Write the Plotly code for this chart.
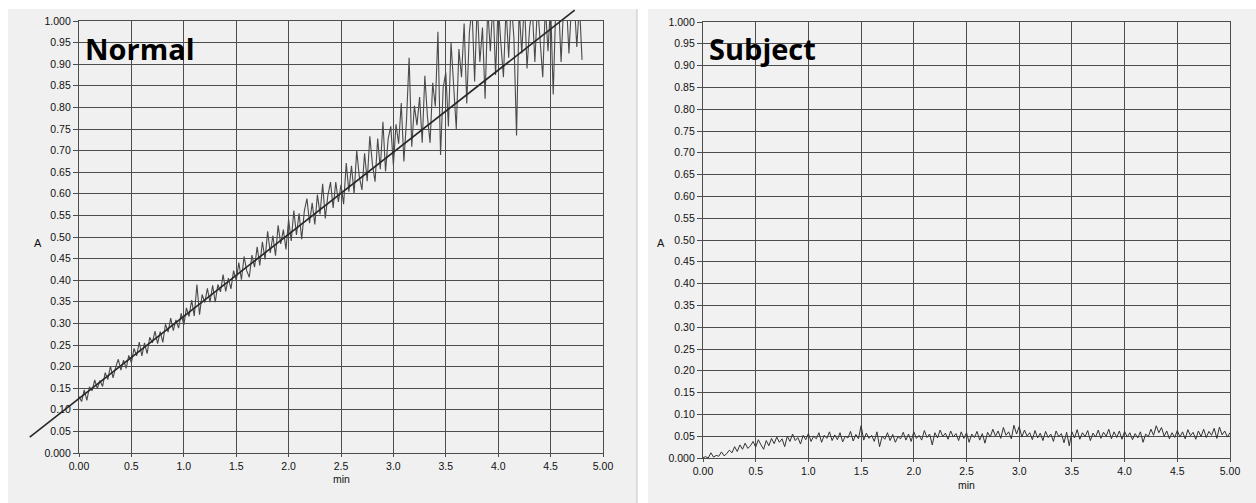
import plotly.graph_objects as go

# ---------------- data ----------------
sample_step_min = 0.025  # spacing of the recorded readings (min)

normal_A = [
    0.131, 0.119, 0.146, 0.122, 0.153, 0.144, 0.169, 0.149, 0.168, 0.154,
    0.186, 0.170, 0.201, 0.174, 0.199, 0.217, 0.192, 0.215, 0.196, 0.226,
    0.209, 0.242, 0.225, 0.257, 0.225, 0.255, 0.230, 0.268, 0.255, 0.282,
    0.253, 0.281, 0.256, 0.298, 0.280, 0.312, 0.283, 0.308, 0.289, 0.323,
    0.296, 0.336, 0.316, 0.354, 0.317, 0.390, 0.320, 0.367, 0.348, 0.381,
    0.349, 0.388, 0.349, 0.390, 0.373, 0.413, 0.374, 0.405, 0.380, 0.422,
    0.399, 0.441, 0.401, 0.455, 0.422, 0.407, 0.458, 0.430, 0.477, 0.434,
    0.489, 0.448, 0.513, 0.463, 0.503, 0.457, 0.527, 0.484, 0.517, 0.471,
    0.541, 0.491, 0.561, 0.505, 0.555, 0.495, 0.560, 0.589, 0.532, 0.579,
    0.529, 0.598, 0.553, 0.623, 0.543, 0.597, 0.627, 0.567, 0.627, 0.581,
    0.621, 0.576, 0.671, 0.605, 0.665, 0.600, 0.700, 0.639, 0.609, 0.694,
    0.629, 0.733, 0.668, 0.628, 0.728, 0.657, 0.767, 0.652, 0.727, 0.756,
    0.666, 0.761, 0.716, 0.810, 0.675, 0.770, 0.915, 0.709, 0.804, 0.759,
    0.824, 0.718, 0.873, 0.778, 0.718, 0.857, 0.802, 0.975, 0.690, 0.846,
    0.881, 0.756, 0.951, 0.835, 0.750, 0.935, 0.870, 0.994, 0.809, 0.974,
    1.030, 0.860, 1.040, 0.905, 0.985, 0.820, 1.030, 0.930, 1.050, 0.875,
    1.040, 0.950, 0.870, 1.030, 0.915, 1.045, 0.960, 0.735, 1.030, 0.925,
    1.050, 0.890, 0.985, 1.030, 0.905, 1.040, 0.945, 0.870, 1.035, 0.930,
    1.040, 0.830, 1.040, 1.050, 0.905, 1.040, 1.050, 0.925, 1.040, 1.050,
    0.940, 1.040, 0.910,
]

subject_A = [
    0.001, 0.003, 0.000, 0.012, 0.002, 0.006, 0.004, 0.014, 0.005, 0.010,
    0.018, 0.012, 0.026, 0.015, 0.030, 0.020, 0.034, 0.022, 0.028, 0.038,
    0.025, 0.042, 0.030, 0.020, 0.040, 0.028, 0.045, 0.033, 0.048, 0.036,
    0.044, 0.026, 0.050, 0.038, 0.055, 0.040, 0.047, 0.032, 0.052, 0.042,
    0.056, 0.038, 0.050, 0.044, 0.058, 0.036, 0.052, 0.045, 0.060, 0.040,
    0.053, 0.042, 0.058, 0.037, 0.050, 0.046, 0.061, 0.039, 0.054, 0.044,
    0.074, 0.041, 0.057, 0.045, 0.052, 0.038, 0.060, 0.026, 0.050, 0.043,
    0.058, 0.040, 0.054, 0.036, 0.049, 0.044, 0.059, 0.041, 0.055, 0.038,
    0.060, 0.045, 0.052, 0.041, 0.063, 0.047, 0.055, 0.030, 0.058, 0.046,
    0.064, 0.049, 0.057, 0.043, 0.062, 0.048, 0.056, 0.040, 0.060, 0.045,
    0.058, 0.036, 0.055, 0.047, 0.061, 0.041, 0.056, 0.034, 0.059, 0.048,
    0.066, 0.050, 0.062, 0.045, 0.070, 0.052, 0.060, 0.044, 0.075, 0.055,
    0.072, 0.048, 0.064, 0.050, 0.058, 0.042, 0.063, 0.046, 0.057, 0.040,
    0.061, 0.047, 0.055, 0.038, 0.062, 0.049, 0.056, 0.035, 0.059, 0.028,
    0.060, 0.046, 0.065, 0.043, 0.058, 0.049, 0.063, 0.040, 0.057, 0.048,
    0.064, 0.045, 0.059, 0.050, 0.066, 0.044, 0.060, 0.047, 0.062, 0.043,
    0.061, 0.048, 0.058, 0.042, 0.056, 0.046, 0.060, 0.036, 0.055, 0.049,
    0.066, 0.052, 0.074, 0.058, 0.070, 0.050, 0.062, 0.044, 0.058, 0.047,
    0.063, 0.048, 0.060, 0.044, 0.065, 0.051, 0.059, 0.043, 0.062, 0.049,
    0.066, 0.047, 0.061, 0.052, 0.068, 0.045, 0.071, 0.053, 0.062, 0.048,
    0.058,
]

# fitted straight line on the Normal panel (end points)
fit_x = [-0.47, 4.73]
fit_y = [0.037, 1.025]

x_tickvals = [0.0, 0.5, 1.0, 1.5, 2.0, 2.5, 3.0, 3.5, 4.0, 4.5, 5.0]
x_ticktext = ["0.00", "0.5", "1.0", "1.5", "2.0", "2.5", "3.0", "3.5", "4.0", "4.5", "5.00"]
y_tickvals = [0.0, 0.05, 0.10, 0.15, 0.20, 0.25, 0.30, 0.35, 0.40, 0.45, 0.50,
              0.55, 0.60, 0.65, 0.70, 0.75, 0.80, 0.85, 0.90, 0.95, 1.0]
y_ticktext = ["0.000", "0.05", "0.10", "0.15", "0.20", "0.25", "0.30", "0.35", "0.40",
              "0.45", "0.50", "0.55", "0.60", "0.65", "0.70", "0.75", "0.80", "0.85",
              "0.90", "0.95", "1.000"]

panel_titles = ["Normal", "Subject"]
x_title = "min"
y_title = "A"

# ---------------- layout helpers ----------------
W, H = 1256, 503
def px_x(p):
    return p / W
def px_y(p):
    return 1 - p / H

normal_t = [round(i * sample_step_min, 4) for i in range(len(normal_A))]
subject_t = [round(i * sample_step_min, 4) for i in range(len(subject_A))]

GRID = "#4d4d4d"
TXT = "#111111"
FONT = "Liberation Sans, Arial, sans-serif"
TICK_SIZE = 10.5

fig = go.Figure()
fig.add_trace(go.Scatter(x=normal_t, y=normal_A, mode="lines",
                         line=dict(color="#4a4a4a", width=1.1),
                         xaxis="x", yaxis="y", showlegend=False))
fig.add_trace(go.Scatter(x=fit_x, y=fit_y, mode="lines",
                         line=dict(color="#262626", width=1.6),
                         xaxis="x3", yaxis="y3", showlegend=False))
fig.add_trace(go.Scatter(x=subject_t, y=subject_A, mode="lines",
                         line=dict(color="#333333", width=1.0),
                         xaxis="x2", yaxis="y2", showlegend=False))

def xax(domain):
    return dict(domain=domain, range=[0, 5], tickvals=x_tickvals, ticktext=x_ticktext,
                showgrid=True, gridcolor=GRID, gridwidth=1.2, zeroline=False,
                showline=True, linecolor=GRID, linewidth=1.2, mirror=True,
                ticks="outside", ticklen=3, tickcolor=GRID, automargin=False,
                tickfont=dict(family=FONT, size=TICK_SIZE, color=TXT), fixedrange=True)

def yax(domain, anchor):
    return dict(domain=domain, range=[0, 1], tickvals=y_tickvals, ticktext=y_ticktext,
                showgrid=True, gridcolor=GRID, gridwidth=1.2, zeroline=False,
                showline=True, linecolor=GRID, linewidth=1.2, mirror=True,
                ticks="outside", ticklen=5, tickcolor=GRID, anchor=anchor, automargin=False,
                tickfont=dict(family=FONT, size=TICK_SIZE, color=TXT), fixedrange=True)

L_x = [px_x(79), px_x(603)]
L_y = [px_y(453), px_y(21)]
R_x = [px_x(703), px_x(1230)]
R_y = [px_y(458), px_y(22)]

layout = dict(
    template="none",
    width=W, height=H, autosize=False,
    margin=dict(l=0, r=0, t=0, b=0, pad=0),
    paper_bgcolor="#ffffff", plot_bgcolor="rgba(0,0,0,0)",
    xaxis=dict(xax(L_x), anchor="y"),
    yaxis=yax(L_y, "x"),
    xaxis2=dict(xax(R_x), anchor="y2"),
    yaxis2=yax(R_y, "x2"),
    # invisible axes with the same scale as the Normal panel, but a larger
    # domain, so the fitted line may run past the plot frame as in the scan
    xaxis3=dict(domain=[px_x(20), px_x(603)], range=[(20 - 79) / 104.8, 5.0],
                visible=False, anchor="y3", fixedrange=True, automargin=False),
    yaxis3=dict(domain=[px_y(453), px_y(4)], range=[0, (453 - 4) / 432.0],
                visible=False, anchor="x3", fixedrange=True, automargin=False),
    shapes=[
        dict(type="rect", xref="paper", yref="paper", x0=px_x(8), x1=px_x(637),
             y0=0, y1=px_y(9), fillcolor="#f0f0f0", line=dict(width=0), layer="below"),
        dict(type="rect", xref="paper", yref="paper", x0=px_x(648), x1=1,
             y0=0, y1=px_y(9), fillcolor="#f1f1f1", line=dict(width=0), layer="below"),
        dict(type="line", xref="paper", yref="paper", x0=px_x(637), x1=px_x(637),
             y0=0, y1=px_y(9), line=dict(color="#c4c4c4", width=1), layer="below"),
    ],
    annotations=[
        dict(text="<b>%s</b>" % panel_titles[0], xref="paper", yref="paper",
             x=px_x(83), y=px_y(48), xanchor="left", yanchor="middle", showarrow=False,
             font=dict(family="Open Sans, sans-serif", size=29, color="#000000")),
        dict(text="<b>%s</b>" % panel_titles[1], xref="paper", yref="paper",
             x=px_x(707), y=px_y(48), xanchor="left", yanchor="middle", showarrow=False,
             font=dict(family="Open Sans, sans-serif", size=29, color="#000000")),
        dict(text=x_title, xref="x", yref="paper", x=2.5, y=px_y(479),
             xanchor="center", yanchor="middle", showarrow=False,
             font=dict(family=FONT, size=TICK_SIZE, color=TXT)),
        dict(text=x_title, xref="x2", yref="paper", x=2.5, y=px_y(485),
             xanchor="center", yanchor="middle", showarrow=False,
             font=dict(family=FONT, size=TICK_SIZE, color=TXT)),
        dict(text=y_title, xref="paper", yref="paper", x=px_x(38), y=px_y(243),
             xanchor="center", yanchor="middle", showarrow=False,
             font=dict(family=FONT, size=11, color=TXT)),
        dict(text=y_title, xref="paper", yref="paper", x=px_x(661), y=px_y(243),
             xanchor="center", yanchor="middle", showarrow=False,
             font=dict(family=FONT, size=11, color=TXT)),
    ],
)
fig.update_layout(layout)

fig.write_html("out.html", config={"displayModeBar": False},
               post_script="document.body.style.margin='0';document.body.style.overflow='hidden';")
